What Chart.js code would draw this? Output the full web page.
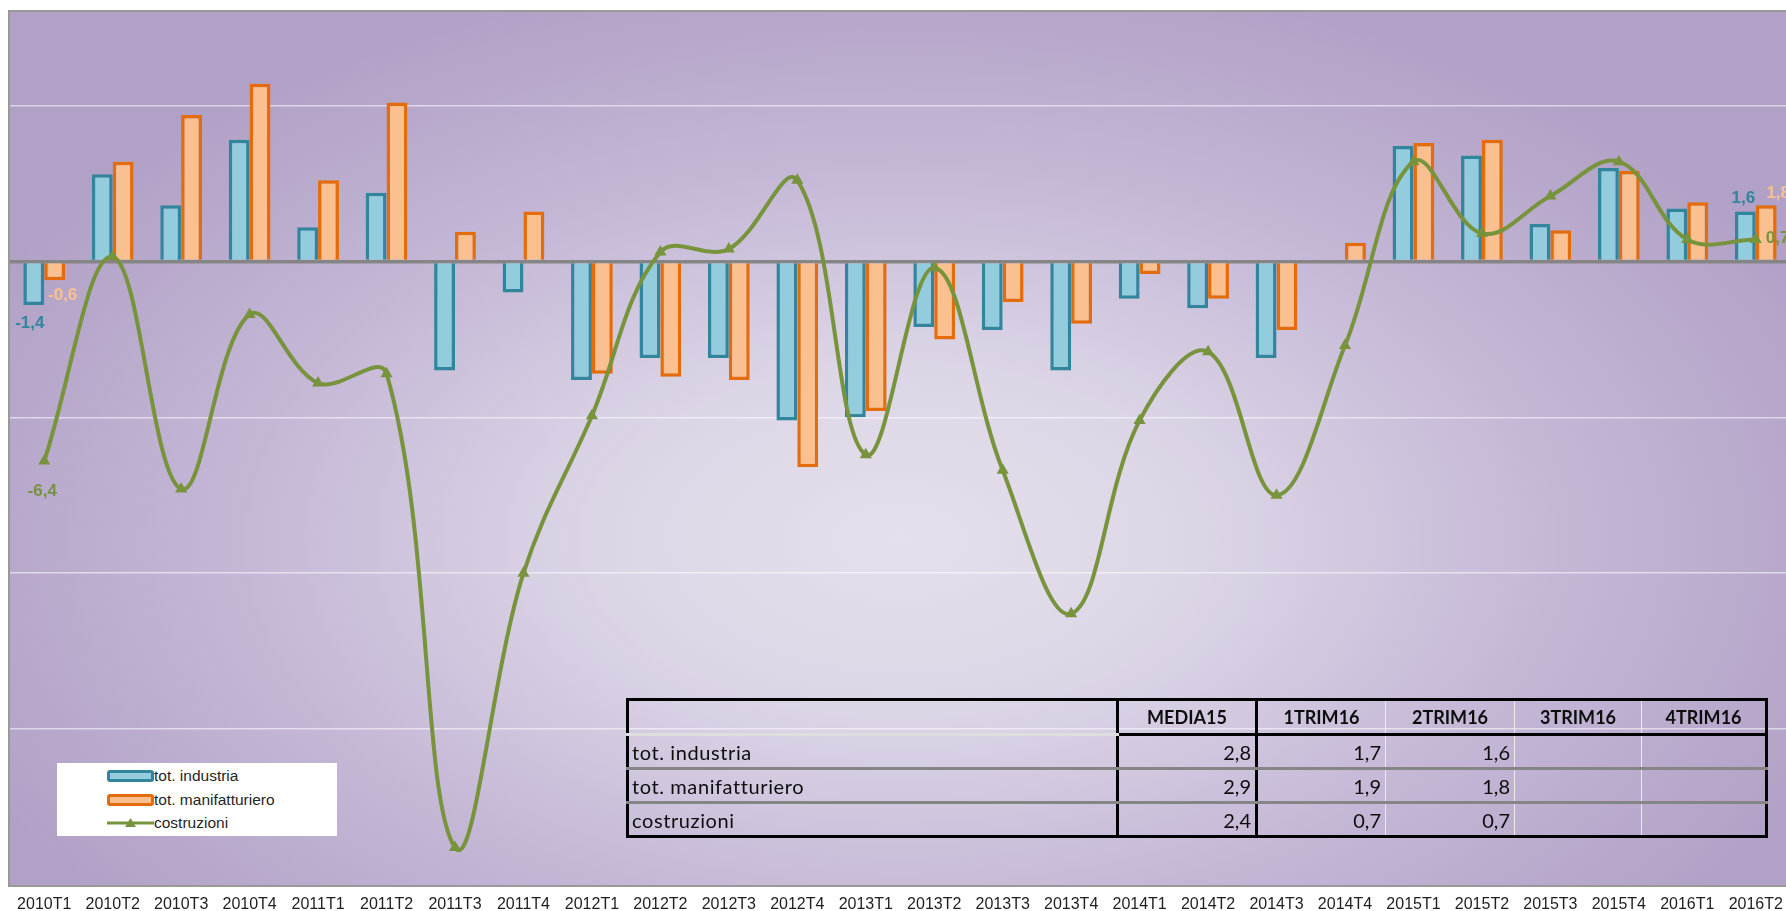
<!DOCTYPE html>
<html>
<head>
<meta charset="utf-8">
<script src="https://cdn.jsdelivr.net/npm/chart.js@4.4.1/dist/chart.umd.min.js"></script>
<style>
html, body { margin: 0; padding: 0; background: #fff; overflow: hidden; width: 1786px; height: 911px; }
#contenitore { position: absolute; left: 0; top: 0; width: 1797px; height: 911px; }
#legenda { position: absolute; left: 57px; top: 763px; width: 280px; height: 73px; background: #fff;
  font-family: "Liberation Sans", Arial, sans-serif; font-size: 15.5px; color: #262626; }
.voce { position: absolute; left: 50px; height: 20px; line-height: 20px; white-space: nowrap; }
.sw { display: inline-block; vertical-align: middle; width: 47px; height: 12px; box-sizing: border-box; border-radius: 3px; margin-top: -2px; }
#tabella { position: absolute; left: 626px; top: 698px; border-collapse: collapse; table-layout: fixed;
  border: 3px solid #000; font-family: Lato, "Open Sans", sans-serif; color: #0d0d0d; }
#tabella td, #tabella th { height: 34px; padding: 0 4px 5px 4px; vertical-align: bottom; line-height: 1;
  font-size: 20px; overflow: hidden; white-space: nowrap; box-sizing: border-box; }
#tabella th { height: 35px; font-weight: bold; text-align: center; border-bottom: 3px solid #000; font-size: 18px; padding-bottom: 7px; }
#tabella th:first-child { border-bottom-color: #dedede; }
#tabella td { text-align: right; }
#tabella td:first-child { text-align: left; padding-left: 3px; letter-spacing: 0.6px; }
#tabella tr > :nth-child(1), #tabella tr > :nth-child(2) { border-right: 3px solid #000; }
#tabella tr > :nth-child(3), #tabella tr > :nth-child(4), #tabella tr > :nth-child(5) { border-right: 1px solid #ececec; }
#tabella tbody tr:not(:last-child) td { border-bottom: 3px solid #858585; }
</style>
</head>
<body>
<div id="contenitore"><canvas id="grafico"></canvas></div>

<div id="legenda">
  <div class="voce" style="top:3px"><span class="sw" style="border:3px solid #31859C;background:#93CDDD"></span>tot. industria</div>
  <div class="voce" style="top:27px"><span class="sw" style="border:3px solid #E46C0A;background:#FAC090"></span>tot. manifatturiero</div>
  <div class="voce" style="top:50px"><svg width="47" height="12" style="vertical-align:middle;margin-top:-2px"><line x1="0" y1="6" x2="47" y2="6" stroke="#77933C" stroke-width="3"/><polygon points="23.5,1 29,10 18,10" fill="#77933C"/></svg>costruzioni</div>
</div>

<table id="tabella"></table>

<script>
// Dati (variazioni %)
const trimestri = ['2010T1','2010T2','2010T3','2010T4','2011T1','2011T2','2011T3','2011T4',
  '2012T1','2012T2','2012T3','2012T4','2013T1','2013T2','2013T3','2013T4',
  '2014T1','2014T2','2014T3','2014T4','2015T1','2015T2','2015T3','2015T4','2016T1','2016T2'];
const totIndustria = [-1.4, 2.8, 1.8, 3.9, 1.1, 2.2, -3.5, -1.0, -3.8, -3.1, -3.1, -5.1, -5.0, -2.1, -2.2, -3.5,
  -1.2, -1.5, -3.1, 0.05, 3.7, 3.4, 1.2, 3.0, 1.7, 1.6];
const totManifatturiero = [-0.6, 3.2, 4.7, 5.7, 2.6, 5.1, 0.95, 1.6, -3.6, -3.7, -3.8, -6.6, -4.8, -2.5, -1.3, -2.0,
  -0.4, -1.2, -2.2, 0.6, 3.8, 3.9, 1.0, 2.9, 1.9, 1.8];
const costruzioni = [-6.4, 0.15, -7.3, -1.7, -3.9, -3.6, -18.8, -10.0, -4.95, 0.3, 0.4, 2.6, -6.2, -0.2, -6.7, -11.3,
  -5.1, -2.9, -7.5, -2.7, 3.2, 0.9, 2.1, 3.2, 0.7, 0.7];

// tabella riassuntiva
const colonneTab = ['MEDIA15', '1TRIM16', '2TRIM16', '3TRIM16', '4TRIM16'];
const righeTab = ['tot. industria', 'tot. manifatturiero', 'costruzioni'];
const tabIndustria = [2.8, 1.7, 1.6, null, null];
const tabManifatturiero = [2.9, 1.9, 1.8, null, null];
const tabCostruzioni = [2.4, 0.7, 0.7, null, null];

const virgola = v => v.toFixed(1).replace('.', ',');

// costruisce la tabella
const larghezze = [490, 139, 129, 129, 127, 125];
let html = '<colgroup>' + larghezze.map(w => '<col style="width:' + w + 'px">').join('') + '</colgroup>';
html += '<thead><tr><th></th>' + colonneTab.map(c => '<th>' + c + '</th>').join('') + '</tr></thead><tbody>';
[tabIndustria, tabManifatturiero, tabCostruzioni].forEach((riga, i) => {
  html += '<tr><td>' + righeTab[i] + '</td>' + riga.map(v => '<td>' + (v === null ? '' : virgola(v)) + '</td>').join('') + '</tr>';
});
html += '</tbody>';
document.getElementById('tabella').innerHTML = html;

// sfondo sfumato dell'area del grafico
const sfondo = {
  id: 'sfondo',
  beforeDraw(chart) {
    const { ctx, chartArea: a } = chart;
    ctx.save();
    ctx.fillStyle = '#fff';
    ctx.fillRect(0, 0, chart.width, chart.height);
    ctx.beginPath();
    ctx.rect(a.left, a.top, a.right - a.left, a.bottom - a.top);
    ctx.clip();
    const cx = 900, cy = 540, sx = 1.75;
    ctx.translate(cx, cy);
    ctx.scale(sx, 1);
    const g = ctx.createRadialGradient(0, 0, 0, 0, 0, 580);
    g.addColorStop(0, '#e5e0ec');
    g.addColorStop(0.3, '#dcd5e6');
    g.addColorStop(0.65, '#c4b7d6');
    g.addColorStop(1, '#b1a1c6');
    ctx.fillStyle = g;
    ctx.fillRect(-1200, -1200, 2400, 2400);
    ctx.restore();
  },
  beforeDatasetsDraw(chart) {
    const { ctx, chartArea: a } = chart;
    ctx.save();
    ctx.strokeStyle = '#999';
    ctx.lineWidth = 2;
    ctx.strokeRect(a.left - 1, a.top - 1, a.right - a.left + 2, a.bottom - a.top + 2);
    ctx.restore();
  }
};

// etichette dei valori al primo e all'ultimo trimestre
const etichette = {
  id: 'etichette',
  afterDatasetsDraw(chart) {
    const { ctx } = chart;
    const ultimo = trimestri.length - 1;
    const voci = [
      [0, 0, -4, 18, 'center', '#31859C'],
      [1, 0, 8, 15, 'center', '#FAC090'],
      [2, 0, -2, 30, 'center', '#77933C'],
      [0, ultimo, -2, -13, 'center', '#31859C'],
      [1, ultimo, 12, -12, 'center', '#FAC090'],
      [2, ultimo, 10, -1, 'left', '#77933C']
    ];
    ctx.save();
    ctx.font = 'bold 17px "Liberation Sans", Arial, sans-serif';
    ctx.textBaseline = 'middle';
    voci.forEach(([ds, i, dx, dy, al, col]) => {
      const el = chart.getDatasetMeta(ds).data[i];
      const v = chart.data.datasets[ds].data[i];
      ctx.fillStyle = col;
      ctx.textAlign = al;
      ctx.fillText(virgola(v), el.x + dx, el.y + dy);
    });
    ctx.restore();
  }
};

new Chart(document.getElementById('grafico'), {
  type: 'bar',
  data: {
    labels: trimestri,
    datasets: [
      { label: 'tot. industria', data: totIndustria, backgroundColor: '#93CDDD', borderColor: '#31859C',
        borderWidth: 3.5, order: 1 },
      { label: 'tot. manifatturiero', data: totManifatturiero, backgroundColor: '#FAC090', borderColor: '#E46C0A',
        borderWidth: 3.5, order: 1 },
      { type: 'line', label: 'costruzioni', data: costruzioni, borderColor: '#77933C', backgroundColor: '#77933C',
        borderWidth: 4, tension: 0.38, pointStyle: 'triangle', pointRadius: 7, pointBorderWidth: 0, order: 0 }
    ]
  },
  options: {
    responsive: true,
    maintainAspectRatio: false,
    animation: false,
    layout: { padding: { left: 10, top: 12, right: 1, bottom: 0 } },
    datasets: { bar: { categoryPercentage: 0.61, barPercentage: 1 } },
    plugins: { legend: { display: false }, tooltip: { enabled: false } },
    scales: {
      x: {
        grid: { display: false, drawTicks: false },
        border: { display: false },
        ticks: { color: '#1e1e1e', padding: 10, maxRotation: 0, autoSkip: false,
          font: { family: '"Liberation Sans", Arial, sans-serif', size: 16 } },
        afterFit: s => { s.height = 26; }
      },
      y: {
        min: -20, max: 8,
        ticks: { display: false, stepSize: 5 },
        border: { display: false },
        grid: {
          drawTicks: false,
          color: c => c.tick.value === 0 ? '#858585' : (c.tick.value === -20 || c.tick.value === 8 ? 'rgba(0,0,0,0)' : 'rgba(255,255,255,0.55)'),
          lineWidth: c => c.tick.value === 0 ? 3.5 : 1.5
        },
        afterFit: s => { s.width = 0; }
      }
    }
  },
  plugins: [sfondo, etichette]
});
</script>
</body>
</html>
